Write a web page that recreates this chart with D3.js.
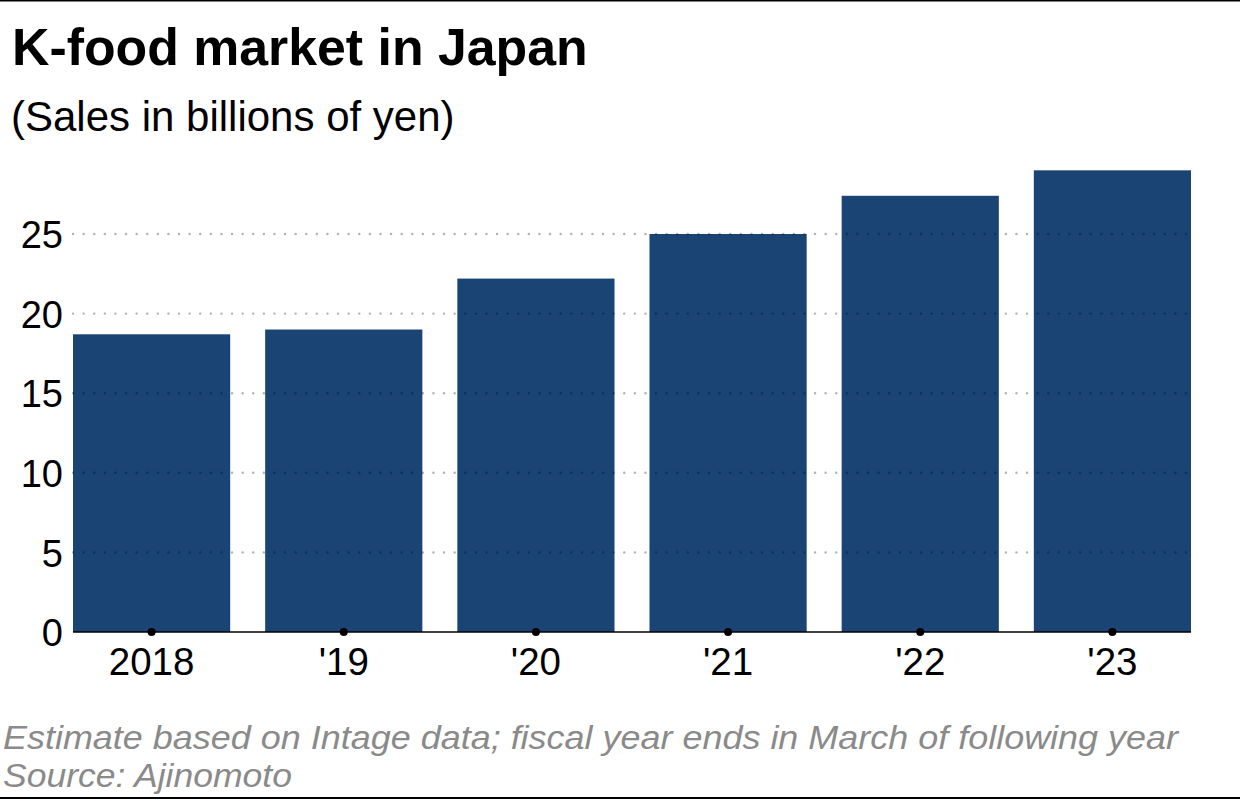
<!DOCTYPE html>
<html><head><meta charset="utf-8">
<script src="https://cdn.jsdelivr.net/npm/d3@7"></script>
<style>
html,body{margin:0;padding:0;background:#fff;}
svg{display:block;font-family:"Liberation Sans",Arial,sans-serif;}
</style></head>
<body>
<script>
const categories = ["2018", "'19", "'20", "'21", "'22", "'23"];
const sales = [18.7, 19.0, 22.2, 25.0, 27.4, 29.0];
const yTicks = [0, 5, 10, 15, 20, 25];
const title = "K-food market in Japan";
const subtitle = "(Sales in billions of yen)";
const notes = ["Estimate based on Intage data; fiscal year ends in March of following year", "Source: Ajinomoto"];

const W = 1240, H = 800;
const svg = d3.select("body").append("svg").attr("width", W).attr("height", H);

svg.append("rect").attr("x",0).attr("y",0).attr("width",W).attr("height",1.5).attr("fill","#000");
svg.append("rect").attr("x",0).attr("y",797).attr("width",W).attr("height",2).attr("fill","#000");

svg.append("text").attr("x",12).attr("y",65).attr("font-size",51.8).attr("font-weight","bold").attr("fill","#000").text(title);
svg.append("text").attr("x",11).attr("y",131).attr("font-size",42).attr("fill","#000").text(subtitle);

const x = d3.scaleBand().domain(categories).range([73,1191]).paddingInner(0.182).paddingOuter(0);
const y = d3.scaleLinear().domain([0,25]).range([632,234]);

svg.append("g").selectAll("rect").data(sales).join("rect")
  .attr("x",(d,i)=>x(categories[i])).attr("width",x.bandwidth())
  .attr("y",d=>y(d)).attr("height",d=>y(0)-y(d)).attr("fill","#1a4473");

// gridlines
svg.append("g").selectAll("line").data(yTicks.filter(t=>t>0)).join("line")
  .attr("x1",73).attr("x2",1191).attr("y1",d=>y(d)).attr("y2",d=>y(d))
  .attr("stroke","#000").attr("stroke-opacity",0.3).attr("stroke-width",2.4)
  .attr("stroke-dasharray","0.1,10.5").attr("stroke-linecap","round");

// y axis labels
const yAxis = d3.axisLeft(y).tickValues(yTicks).tickSize(0).tickPadding(10).tickFormat(d3.format("d"));
const ya = svg.append("g").attr("transform","translate(73,0)").call(yAxis);
ya.select(".domain").remove();
ya.selectAll("text").attr("font-size",38).attr("font-family","Liberation Sans, Arial, sans-serif").attr("fill","#000").attr("dy","0.36em");

// baseline
svg.append("line").attr("x1",73).attr("x2",1191).attr("y1",y(0)).attr("y2",y(0)).attr("stroke","#000").attr("stroke-width",1.5);

// x axis
const xAxis = d3.axisBottom(x).tickSize(0).tickPadding(16);
const xa = svg.append("g").attr("transform",`translate(0,${y(0)})`).call(xAxis);
xa.select(".domain").remove();
xa.selectAll("text").attr("font-size",38.5).attr("font-family","Liberation Sans, Arial, sans-serif").attr("fill","#000").attr("dy","0.71em");
xa.selectAll(".tick").append("circle").attr("r",4).attr("cx",0).attr("cy",0).attr("fill","#000");

// notes
const noteWidths = [1175, 289];
notes.forEach((t,i)=>{
  svg.append("text").attr("x",3).attr("y",749+i*38).attr("font-size",34).attr("font-style","italic")
    .attr("fill","#8a8a8a").attr("textLength",noteWidths[i]).attr("lengthAdjust","spacingAndGlyphs").text(t);
});
</script>
</body></html>
